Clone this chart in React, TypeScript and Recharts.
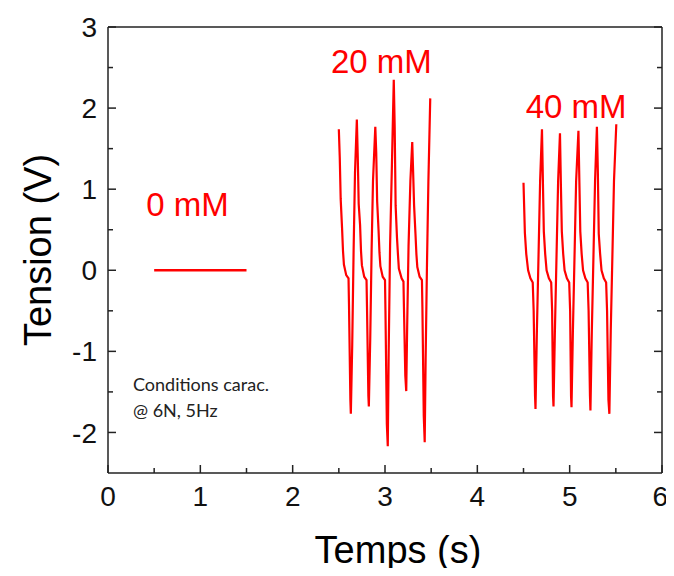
import React from "react";
import { LineChart, Line, XAxis, YAxis, ReferenceDot } from "recharts";

// axis ticks (minor every 0.5, labels on integers)
const xTicks = [0, 0.5, 1, 1.5, 2, 2.5, 3, 3.5, 4, 4.5, 5, 5.5, 6];
const yTicks = [-2, -1.5, -1, -0.5, 0, 0.5, 1, 1.5, 2, 2.5, 3];

// 0 mM : flat trace
const t0 = [0.5, 1.5];
const v0 = [0, 0];

// 20 mM trace
const t20 = [
  2.5, 2.51, 2.52, 2.535, 2.545, 2.555, 2.58, 2.605, 2.61, 2.625, 2.63, 2.645, 2.66, 2.675,
  2.695, 2.705, 2.715, 2.73, 2.74, 2.75, 2.775, 2.8, 2.805, 2.82, 2.825, 2.84, 2.855, 2.87,
  2.895, 2.905, 2.915, 2.93, 2.94, 2.95, 2.975, 3.0, 3.005, 3.02, 3.03, 3.04, 3.055, 3.075,
  3.095, 3.105, 3.115, 3.13, 3.14, 3.15, 3.18, 3.2, 3.205, 3.22, 3.23, 3.24, 3.255, 3.275,
  3.295, 3.305, 3.315, 3.33, 3.34, 3.35, 3.375, 3.4, 3.405, 3.42, 3.43, 3.44, 3.455, 3.47,
  3.49,
];
const v20 = [
  1.74, 1.39, 0.88, 0.52, 0.24, 0.07, -0.06, -0.1, -0.42, -1.6, -1.77, -0.92, 0.24, 1.2,
  1.86, 1.4, 0.82, 0.56, 0.24, 0.06, -0.08, -0.12, -0.45, -1.55, -1.68, -0.85, 0.25, 1.1,
  1.77, 1.45, 0.85, 0.5, 0.22, 0.05, -0.08, -0.12, -0.5, -1.9, -2.17, -1.0, 0.3, 1.3,
  2.35, 1.76, 0.8, 0.4, 0.2, 0.02, -0.1, -0.14, -0.45, -1.3, -1.49, -0.7, 0.3, 1.1,
  1.58, 1.2, 0.8, 0.45, 0.2, 0.04, -0.08, -0.12, -0.45, -1.8, -2.12, -1.1, 0.1, 1.1,
  2.12,
];

// 40 mM trace
const t40 = [
  4.5, 4.515, 4.53, 4.55, 4.575, 4.6, 4.61, 4.625, 4.63, 4.645, 4.665, 4.68,
  4.7, 4.71, 4.72, 4.735, 4.75, 4.775, 4.8, 4.81, 4.82, 4.825, 4.84, 4.86, 4.875,
  4.895, 4.905, 4.915, 4.93, 4.945, 4.97, 4.995, 5.005, 5.015, 5.02, 5.035, 5.055, 5.07,
  5.095, 5.105, 5.115, 5.13, 5.145, 5.17, 5.195, 5.205, 5.22, 5.225, 5.24, 5.26, 5.275,
  5.295, 5.305, 5.315, 5.33, 5.345, 5.37, 5.395, 5.405, 5.42, 5.43, 5.445, 5.465, 5.48,
  5.505,
];
const v40 = [
  1.08, 0.46, 0.2, 0.0, -0.1, -0.15, -0.5, -1.55, -1.71, -0.75, 0.3, 1.1,
  1.74, 1.1, 0.48, 0.2, 0.0, -0.1, -0.15, -0.5, -1.55, -1.68, -0.75, 0.3, 1.1,
  1.69, 1.05, 0.48, 0.2, 0.0, -0.1, -0.15, -0.5, -1.55, -1.69, -0.75, 0.3, 1.1,
  1.72, 1.1, 0.48, 0.2, 0.0, -0.1, -0.15, -0.5, -1.55, -1.73, -0.75, 0.3, 1.1,
  1.77, 1.23, 0.45, 0.2, 0.0, -0.1, -0.15, -0.5, -1.6, -1.77, -0.75, 0.3, 1.1,
  1.8,
];

// concentration labels, anchored in data space
const concNames = ["0 mM", "20 mM", "40 mM"];
const concT = [0.86, 2.96, 5.07];
const concV = [0.81, 2.58, 2.02];

const noteLines = ["Conditions carac.", "@ 6N, 5Hz"];

const zip = (ts: number[], vs: number[]) => ts.map((t, i) => ({ t, v: vs[i] }));
const data0 = zip(t0, v0);
const data20 = zip(t20, v20);
const data40 = zip(t40, v40);

const FONT = "'Liberation Sans', Arial, sans-serif";
const AXIS = "#222";
const RED = "#ff0000";
const MAJOR = 8;
const MINOR = 5;
const X_GAP = 13;
const Y_GAP = 11;

const isMajor = (v: number) => Math.abs(v - Math.round(v)) < 1e-6;

const BottomTick = (props: any) => {
  const { x, y, payload } = props;
  const base = y - X_GAP;
  const major = isMajor(payload.value);
  // last label sits flush with the right frame, as in the original figure
  const last = payload.value === xTicks[xTicks.length - 1];
  return (
    <g>
      <line x1={x} y1={base} x2={x} y2={base - (major ? MAJOR : MINOR)} stroke={AXIS} strokeWidth={1.5} />
      {major && (
        <text
          x={last ? x + 6 : x}
          y={y}
          dy="0.71em"
          textAnchor={last ? "end" : "middle"}
          fontSize={28}
          fontFamily={FONT}
          fill="#111"
        >
          {payload.value}
        </text>
      )}
    </g>
  );
};

const TopTick = (props: any) => {
  const { x, y, payload } = props;
  const major = isMajor(payload.value);
  return <line x1={x} y1={y} x2={x} y2={y + (major ? MAJOR : MINOR)} stroke={AXIS} strokeWidth={1.5} />;
};

const LeftTick = (props: any) => {
  const { x, y, payload } = props;
  const base = x + Y_GAP;
  const major = isMajor(payload.value);
  return (
    <g>
      <line x1={base} y1={y} x2={base + (major ? MAJOR : MINOR)} y2={y} stroke={AXIS} strokeWidth={1.5} />
      {major && (
        <text x={x} y={y} dy="0.36em" textAnchor="end" fontSize={28} fontFamily={FONT} fill="#111">
          {payload.value}
        </text>
      )}
    </g>
  );
};

const RightTick = (props: any) => {
  const { x, y, payload } = props;
  const major = isMajor(payload.value);
  return <line x1={x} y1={y} x2={x - (major ? MAJOR : MINOR)} y2={y} stroke={AXIS} strokeWidth={1.5} />;
};

export default function App() {
  return (
    <div style={{ position: "relative", width: 666, height: 560, fontFamily: FONT }}>
      <style>{`svg.recharts-surface { overflow: visible; }`}</style>
      <LineChart width={666} height={560} margin={{ top: 0, right: 0, bottom: 0, left: 0 }}>
        <XAxis
          dataKey="t"
          type="number"
          domain={[0, 6]}
          allowDataOverflow
          ticks={xTicks}
          interval={0}
          height={95}
          tickSize={0}
          tickMargin={X_GAP}
          tickLine={false}
          tick={<BottomTick />}
          axisLine={{ stroke: AXIS, strokeWidth: 1.5 }}
          label={{
            value: "Temps (s)",
            position: "insideBottom",
            offset: 5,
            dx: 13,
            fontSize: 38,
            fontFamily: FONT,
            fill: "#000",
          }}
        />
        <XAxis
          xAxisId="top"
          orientation="top"
          type="number"
          domain={[0, 6]}
          allowDataOverflow
          ticks={xTicks}
          interval={0}
          height={19}
          tickSize={0}
          tickMargin={0}
          tickLine={false}
          tick={<TopTick />}
          axisLine={{ stroke: AXIS, strokeWidth: 1.5 }}
        />
        <YAxis
          type="number"
          domain={[-2.5, 3]}
          allowDataOverflow
          ticks={yTicks}
          interval={0}
          width={100}
          tickSize={0}
          tickMargin={Y_GAP}
          tickLine={false}
          tick={<LeftTick />}
          axisLine={{ stroke: AXIS, strokeWidth: 1.5 }}
          label={{
            value: "Tension (V)",
            angle: -90,
            position: "insideLeft",
            offset: 30,
            fontSize: 38,
            fontFamily: FONT,
            fill: "#000",
            style: { textAnchor: "middle" },
          }}
        />
        <YAxis
          yAxisId="right"
          orientation="right"
          type="number"
          domain={[-2.5, 3]}
          allowDataOverflow
          ticks={yTicks}
          interval={0}
          width={12}
          tickSize={0}
          tickMargin={0}
          tickLine={false}
          tick={<RightTick />}
          axisLine={{ stroke: AXIS, strokeWidth: 1.5 }}
        />

        <Line data={data0} dataKey="v" stroke={RED} strokeWidth={2.5} dot={false} isAnimationActive={false} />
        <Line data={data20} dataKey="v" stroke={RED} strokeWidth={2.2} dot={false} isAnimationActive={false} />
        <Line data={data40} dataKey="v" stroke={RED} strokeWidth={2.2} dot={false} isAnimationActive={false} />

        {concNames.map((name, i) => (
          <ReferenceDot
            key={name}
            x={concT[i]}
            y={concV[i]}
            r={0}
            fillOpacity={0}
            stroke="none"
            label={{ value: name, position: "center", fontSize: 33, fontFamily: FONT, fill: RED }}
          />
        ))}
      </LineChart>
      <div
        style={{
          position: "absolute",
          left: 125,
          top: 363,
          fontFamily: "Lato, 'Open Sans', sans-serif",
          fontSize: 18,
          lineHeight: "26px",
          color: "#222",
          whiteSpace: "nowrap",
        }}
      >
        {noteLines.map((l) => (
          <div key={l}>{l}</div>
        ))}
      </div>
    </div>
  );
}
